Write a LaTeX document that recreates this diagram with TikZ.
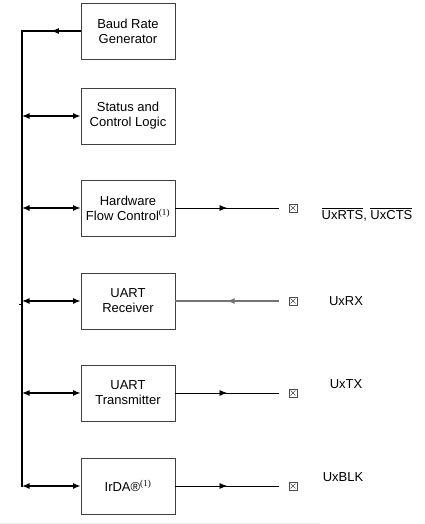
\documentclass[tikz,border=0pt]{standalone}
\usepackage{fontspec}
\setmainfont{Liberation Sans}
\newfontfamily\serifnum{Liberation Serif}
\usetikzlibrary{arrows.meta}
\usetikzlibrary{decorations.markings}

\newcommand\barsig[1]{$\overline{\mbox{#1}}$}
\newcommand\note{\textsuperscript{\serifnum(1)}}

\tikzset{
    block/.style={draw=black!75, line width=0.9pt, minimum width=94pt, minimum height=56pt,
        align=center, inner sep=2pt, font=\fontsize{13}{15}\selectfont},
    sig/.style={inner sep=0pt, font=\fontsize{13}{15}\selectfont},
    pinbox/.style={draw=black!70, line width=0.6pt, minimum size=8pt, inner sep=0pt,
        path picture={
            \draw[line width=0.6pt] ([shift={(1.6pt,1.6pt)}]path picture bounding box.south west)
                -- ([shift={(-1.6pt,-1.6pt)}]path picture bounding box.north east);
            \draw[line width=0.6pt] ([shift={(1.6pt,-1.6pt)}]path picture bounding box.north west)
                -- ([shift={(-1.6pt,1.6pt)}]path picture bounding box.south east);
        }},
    busline/.style={line width=1.4pt, line cap=rect},
    busarrow/.style={line width=1.3pt, {Latex[length=7.5pt,width=6pt]}-{Latex[length=7.5pt,width=6pt]}},
    sigline/.style={line width=0.8pt},
    midarrow/.style={postaction={decorate}, decoration={markings,
        mark=at position #1 with {\arrow{Latex[length=7.5pt,width=6pt]}}}}
}

\begin{document}
\begin{tikzpicture}[x=1pt, y=-1pt]
    \useasboundingbox (0, 0) rectangle (424, 524);
    % blocks
    \path (128, 31) node [block] (brg) {Baud Rate\\Generator};
    \path (128, 116) node [block] (scl) {Status and\\Control Logic};
    \path (128, 208) node [block] (hfc) {Hardware\\Flow Control\note};
    \path (128, 301) node [block] (urx) {UART\\Receiver};
    \path (128, 393) node [block] (utx) {UART\\Transmitter};
    \path (128, 486) node [block] (irda) {IrDA®\note};
    % bus
    \coordinate (bustop) at (22, 31);
    \coordinate (busbot) at (22, 486);
    \draw [busline] (bustop) -- (busbot);
    \draw [busline, midarrow=0.5] (brg.west) -- (bustop);
    \draw [busarrow] (scl.west -| bustop) -- (scl.west);
    \draw [busarrow] (hfc.west -| bustop) -- (hfc.west);
    \draw [busarrow] (urx.west -| bustop) -- (urx.west);
    \draw [busarrow] (utx.west -| bustop) -- (utx.west);
    \draw [busarrow] (irda.west -| bustop) -- (irda.west);
    \coordinate (tick) at (19, 304);
    \draw [line width=0.8pt] (tick) -- (tick -| bustop);
    % pins
    \path (293, 208) node [pinbox] (rtspin) {};
    \path (293, 301) node [pinbox] (rxpin) {};
    \path (293, 393) node [pinbox] (txpin) {};
    \path (293, 486) node [pinbox] (blkpin) {};
    \draw [sigline, midarrow=0.5] (hfc.east) -- ([xshift=-10pt]rtspin.west);
    \draw [sigline, black!55, line width=1.1pt, midarrow=0.5] ([xshift=-10pt]rxpin.west) -- (urx.east);
    \draw [sigline, midarrow=0.5] (utx.east) -- ([xshift=-10pt]txpin.west);
    \draw [sigline, midarrow=0.5] (irda.east) -- ([xshift=-10pt]blkpin.west);
    % pin names
    \path (367, 219) node [sig, anchor=base] (rts) {\barsig{UxRTS}, \barsig{UxCTS}};
    \path (346, 301) node [sig] (rx) {UxRX};
    \path (346, 384) node [sig] (tx) {UxTX};
    \path (343, 477) node [sig] (blk) {UxBLK};
    % page edge
    \coordinate (edgel) at (0, 523);
    \coordinate (edger) at (320, 523);
    \draw [black!8, line width=0.8pt] (edgel) -- (edger);
\end{tikzpicture}
\end{document}
